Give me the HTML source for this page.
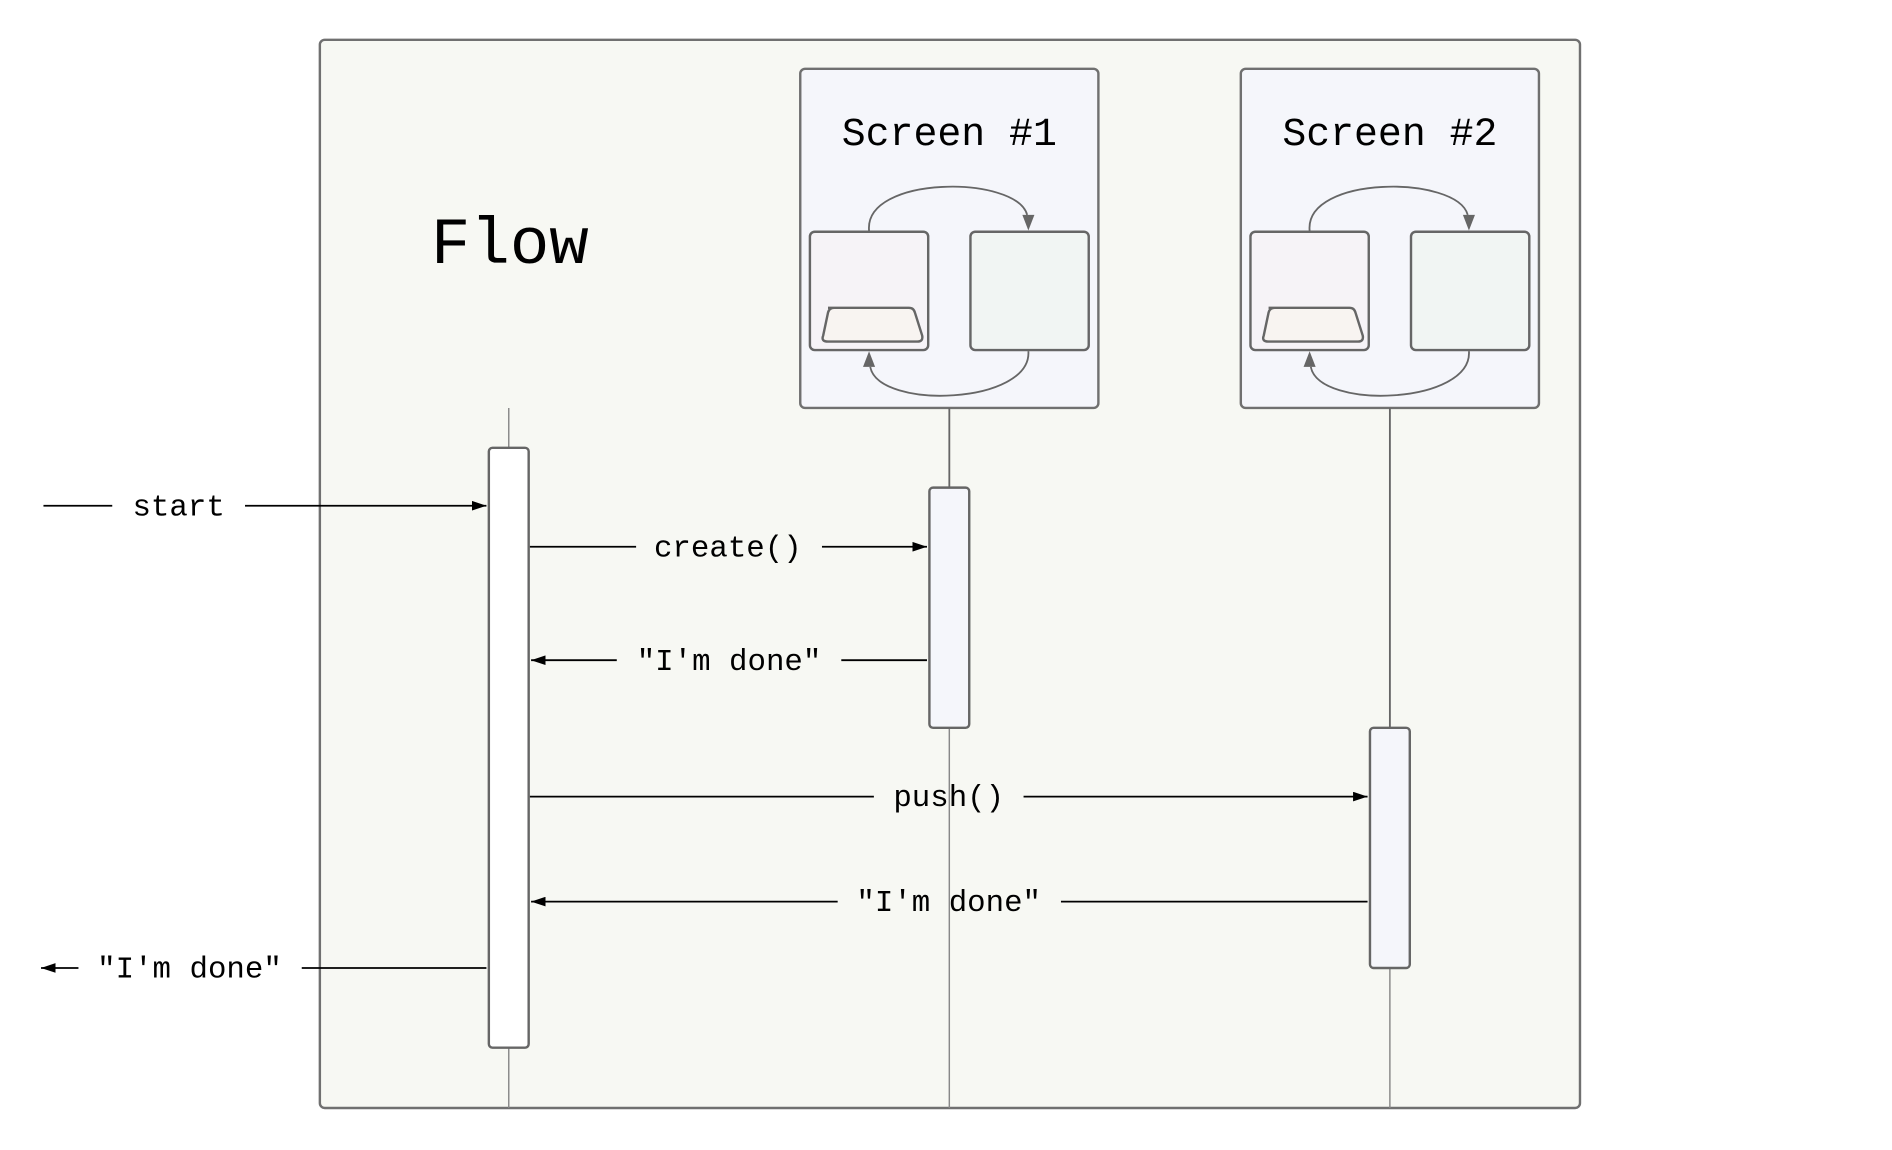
<!DOCTYPE html>
<html><head><style>html,body{margin:0;padding:0;background:#fff;}svg{display:block}</style></head>
<body>
<svg width="1892" height="1150" viewBox="0 0 1567.5 952.8" preserveAspectRatio="none" xmlns="http://www.w3.org/2000/svg">
<defs>
<marker id="a" markerWidth="12" markerHeight="8" refX="12" refY="4" orient="auto" markerUnits="userSpaceOnUse"><path d="M0,0 L12,4 L0,8 z" fill="#000"/></marker>
</defs>
<rect x="265" y="33" width="1044" height="885" rx="4" fill="#f7f8f3" stroke="#707070" stroke-width="2"/>
<text x="357" y="218" font-family="Liberation Mono, monospace" font-size="54.5" fill="#000">Flow</text>

<g id="s1">
<rect x="663" y="57" width="247" height="281" rx="4" fill="#f5f6fb" stroke="#707070" stroke-width="2"/>
<rect x="671" y="192" width="98" height="98" rx="4" fill="#f6f3f7" stroke="#666" stroke-width="2"/>
<rect x="804" y="192" width="98" height="98" rx="4" fill="#f1f5f3" stroke="#666" stroke-width="2"/>
<path d="M686,255 L753,255 Q757,255 758,259 L764,278 Q765,283 760,283 L686,283 Q680,283 682,278 L686,259 Q687,255 691,255 z" fill="#f8f4f1" stroke="#666" stroke-width="2"/>
<path d="M720,191 C716,145 842,145 851,178" fill="none" stroke="#666" stroke-width="1.5"/>
<path d="M852,191 L847,178 L857,178 z" fill="#666"/>
<path d="M852,291 C855,335 728,340 721,304" fill="none" stroke="#666" stroke-width="1.5"/>
<path d="M720,291 L715,304 L725,304 z" fill="#666"/>
</g>
<use href="#s1" x="365"/>
<text x="786.5" y="120" text-anchor="middle" font-family="Liberation Mono, monospace" font-size="33" fill="#000">Screen #1</text>
<text x="1151.5" y="120" text-anchor="middle" font-family="Liberation Mono, monospace" font-size="33" fill="#000">Screen #2</text>

<g stroke="#888" stroke-width="1.2">
<line x1="421.5" y1="338" x2="421.5" y2="918"/>
<line x1="786.5" y1="338" x2="786.5" y2="918"/>
<line x1="1151.5" y1="338" x2="1151.5" y2="918"/>
</g>
<g stroke="#666" stroke-width="1.5"><line x1="786.5" y1="338" x2="786.5" y2="404"/><line x1="1151.5" y1="338" x2="1151.5" y2="603"/></g>
<rect x="405" y="371" width="33" height="497" rx="3" fill="#fff" stroke="#666" stroke-width="2"/>
<rect x="770" y="404" width="33" height="199" rx="3" fill="#f5f6fb" stroke="#666" stroke-width="2"/>
<rect x="1135" y="603" width="33" height="199" rx="3" fill="#f5f6fb" stroke="#666" stroke-width="2"/>

<g stroke="#000" stroke-width="1.5" fill="none">
<line x1="36" y1="419" x2="93" y2="419"/><line x1="203" y1="419" x2="403" y2="419" marker-end="url(#a)"/>
<line x1="439" y1="453" x2="527" y2="453"/><line x1="681" y1="453" x2="768" y2="453" marker-end="url(#a)"/>
<line x1="768" y1="547" x2="697" y2="547"/><line x1="511" y1="547" x2="440" y2="547" marker-end="url(#a)"/>
<line x1="439" y1="660" x2="724" y2="660"/><line x1="848" y1="660" x2="1133" y2="660" marker-end="url(#a)"/>
<line x1="1133" y1="747" x2="879" y2="747"/><line x1="694" y1="747" x2="440" y2="747" marker-end="url(#a)"/>
<line x1="403" y1="802" x2="250" y2="802"/><line x1="65" y1="802" x2="34" y2="802" marker-end="url(#a)"/>
</g>
<g font-family="Liberation Mono, monospace" font-size="25.5" fill="#000" text-anchor="middle">
<text x="148" y="427">start</text>
<text x="603" y="461">create()</text>
<text x="604" y="555">"I'm done"</text>
<text x="786" y="668">push()</text>
<text x="786" y="755">"I'm done"</text>
<text x="157" y="810">"I'm done"</text>
</g>
</svg>
</body></html>
